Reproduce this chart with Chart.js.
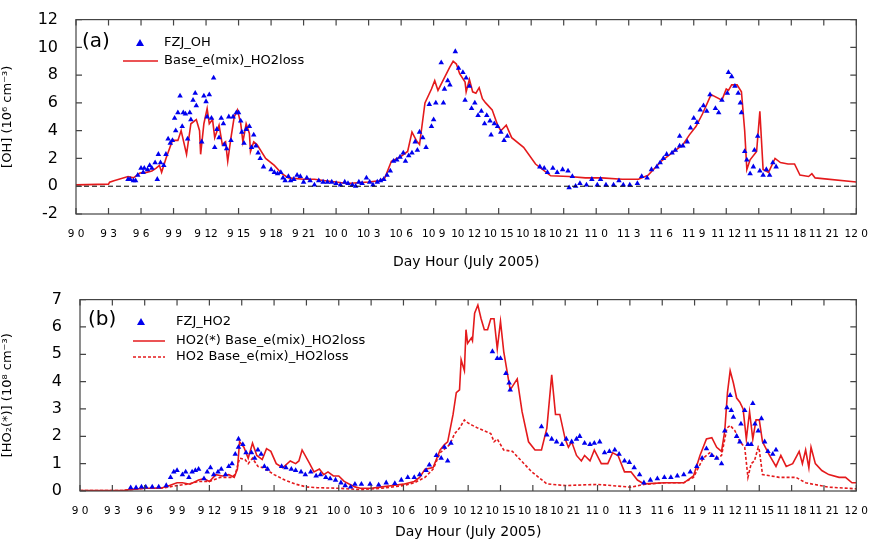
<!DOCTYPE html>
<html><head><meta charset="utf-8">
<script src="https://cdn.jsdelivr.net/npm/chart.js@4"></script>
<style>
body{margin:0;background:#fff;width:874px;height:545px;overflow:hidden;position:relative}
canvas{position:absolute;left:0}
#ca{top:0} #cb{top:280px}
</style></head><body>
<canvas id="ca" width="874" height="275"></canvas>
<canvas id="cb" width="874" height="265"></canvas>
<script>
// x tick labels, one per 3 hours from 9 July 0h
let tickLabels = ["9 0","9 3","9 6","9 9","9 12","9 15","9 18","9 21","10 0","10 3","10 6","10 9","10 12","10 15","10 18","10 21","11 0","11 3","11 6","11 9","11 12","11 15","11 18","11 21","12 0"];

// panel (a) OH model, hours since 9 July 0h
let ohModelX = [0,3,3.1,3.5,4.8,5.3,5.9,6.5,7,7.4,7.7,7.9,8.3,8.9,9.4,9.7,10.2,10.6,11.1,11.4,11.5,11.8,12.1,12.3,12.6,12.8,13.2,13.5,13.8,14,14.3,14.6,14.9,15.2,15.4,15.7,16,16.1,16.4,16.7,17.5,18.3,19,19.6,21,22,23,24,25,26,27,28,28.5,29.1,29.9,30.6,31,31.4,31.7,32.2,32.8,33.1,33.4,34.5,34.8,35.1,35.4,35.9,36,36.3,36.6,36.9,37.2,37.5,37.8,38.4,38.9,39.2,39.7,40.2,41.3,42.4,43.8,45.5,47,48.5,50.4,51.9,52.8,54,55,56,56.6,57.2,57.8,58.6,59.6,60,60.2,60.5,61,61.4,61.7,61.9,62.2,62.8,63.1,63.4,63.9,64.5,65,65.7,66.3,66.8,67.6,67.9,68.2,72];
let ohModelY = [0.1,0.15,0.29,0.4,0.7,0.6,0.95,1.0,1.1,1.3,1.5,1.0,2.0,3.3,3.3,4.0,2.3,4.5,4.8,4.0,2.3,4.5,5.6,4.5,4.8,3.5,4.4,3.0,3.2,1.8,3.5,5.0,5.5,4.5,3.2,4.5,3.8,2.5,3.2,3.0,2.0,1.5,0.9,0.6,0.5,0.5,0.4,0.3,0.2,0.25,0.3,0.4,0.6,1.8,2.1,2.5,3.9,3.3,3.0,6.0,7.0,7.6,6.9,8.6,9.0,8.8,8.1,7.5,6.8,7.7,6.8,6.7,7.1,6.3,6.0,5.5,4.4,4.0,4.4,3.5,2.8,1.6,0.75,0.7,0.6,0.6,0.5,0.5,0.8,1.8,2.4,3.0,3.7,4.3,5.2,6.6,6.2,7.0,6.9,7.3,7.3,6.8,4.0,1.2,1.9,2.5,5.4,1.2,1.0,2.0,1.7,1.6,1.6,0.8,0.7,0.9,0.6,0.3];

// panel (a) FZJ OH measurements
let ohMeasX = [4.8,5.0,5.3,5.5,5.7,6.0,6.2,6.3,6.6,6.8,7.0,7.3,7.5,7.6,7.8,8.1,8.3,8.5,8.7,8.9,9.1,9.2,9.4,9.6,9.8,9.9,10.1,10.3,10.5,10.6,10.8,11.0,11.1,11.6,11.8,12.0,12.1,12.3,12.5,12.7,12.8,13.0,13.2,13.4,13.6,13.7,13.9,14.1,14.3,14.5,14.8,15.0,15.2,15.3,15.5,15.7,16.0,16.2,16.4,16.6,16.8,17.0,17.3,18.0,18.3,18.6,18.9,19.1,19.3,19.6,19.8,20.1,20.4,20.7,21.0,21.3,21.6,22.0,22.4,22.8,23.2,23.6,24.0,24.4,24.8,25.1,25.5,25.8,26.1,26.4,26.8,27.1,27.4,27.8,28.1,28.4,28.7,29.0,29.3,29.6,29.9,30.2,30.4,30.7,31.0,31.3,31.5,31.7,32.0,32.3,32.6,32.8,33.0,33.2,33.7,33.9,34.0,34.3,34.5,35.0,35.3,35.7,35.9,36.0,36.3,36.5,36.8,37.1,37.4,37.7,37.9,38.2,38.3,38.6,38.9,39.2,39.5,39.8,42.8,43.2,43.5,44.0,44.4,44.9,45.4,45.5,45.8,46.1,46.5,47.1,47.6,48.1,48.4,48.9,49.6,50.1,50.5,51.1,51.8,52.2,52.7,53.1,53.6,53.9,54.2,54.5,55.0,55.3,55.7,55.7,56.0,56.4,56.7,57.0,57.3,57.6,57.9,58.2,58.5,59.0,59.3,59.6,60.1,60.2,60.5,60.8,61.1,61.3,61.4,61.7,61.9,62.2,62.5,62.6,62.9,63.1,63.4,63.7,64.0,64.3,64.6];
let ohMeasY = [0.5,0.5,0.4,0.4,0.8,1.3,1.0,1.3,1.2,1.5,1.3,1.7,0.5,2.3,1.7,1.5,2.3,3.4,3.1,3.3,4.9,4.0,5.3,6.5,4.3,5.3,5.2,3.4,5.3,4.8,6.2,6.7,5.8,3.2,6.5,6.1,5.0,6.6,4.9,7.8,2.8,4.1,3.5,4.9,4.5,3.0,2.7,5.0,3.3,5.0,5.3,5.3,4.7,3.9,3.1,4.1,4.3,2.8,3.7,2.9,2.4,2.0,1.4,1.2,1.0,0.9,1.0,0.6,0.4,0.7,0.4,0.5,0.8,0.7,0.3,0.6,0.4,0.1,0.4,0.3,0.3,0.3,0.2,0.1,0.3,0.2,0.1,0.0,0.3,0.2,0.6,0.3,0.1,0.3,0.4,0.5,0.8,1.1,1.8,1.9,2.1,2.4,1.8,2.2,2.4,3.2,2.6,3.9,3.5,2.8,5.9,4.3,4.8,6.0,8.9,6.0,7.0,7.6,7.3,9.7,8.5,8.2,6.2,7.8,7.2,5.6,6.0,5.1,5.4,4.5,5.1,4.7,3.7,4.5,4.3,3.9,3.3,3.6,1.4,1.3,1.0,1.3,1.0,1.2,1.1,-0.1,0.7,0.0,0.2,0.1,0.5,0.1,0.5,0.1,0.1,0.4,0.1,0.1,0.2,0.7,0.6,1.2,1.4,1.7,2.0,2.3,2.4,2.6,2.9,3.6,2.9,3.2,4.2,4.9,4.6,5.5,5.8,5.4,6.6,5.6,5.3,6.2,6.7,8.2,7.9,7.2,6.7,6.0,5.3,2.5,1.9,0.9,1.4,2.6,3.6,1.1,0.8,1.2,0.8,1.7,1.4];

// panel (b) HO2(*) model
let ho2sX = [0,4,4.6,6,7.5,8.3,9,9.5,10.2,11,11.5,12,12.6,13.2,13.8,14.3,14.6,14.8,15.2,15.6,16,16.4,16.9,17.3,17.7,18.2,18.8,19.5,20,20.3,20.6,21.3,21.7,22.2,22.6,23,23.5,24,24.5,25,25.5,26,27,28,29,30,31,31.5,32,32.75,33.4,33.8,34.1,34.6,34.9,35.2,35.35,35.65,35.8,35.95,36.3,36.4,36.6,36.9,37.2,37.5,37.8,38.1,38.4,38.7,39.0,39.3,39.9,40.55,41.0,41.6,42.2,42.8,43.3,43.75,44.1,44.5,45.0,45.3,45.6,46.05,46.5,46.8,47.3,47.7,48.35,48.95,49.4,49.9,50.5,51.1,51.7,52.3,54.2,56.0,56.9,57.5,58.1,58.6,59.05,59.5,59.8,60.05,60.3,60.6,60.9,61.2,61.5,61.8,62.1,62.4,62.7,63.0,63.3,63.95,64.55,65.0,65.5,66.1,66.7,67.0,67.3,67.6,67.8,68.2,68.8,69.45,70.4,71.0,71.6,72];
let ho2sY = [0.02,0.02,0.05,0.1,0.1,0.2,0.3,0.3,0.25,0.4,0.45,0.35,0.6,0.55,0.6,0.5,0.8,1.8,1.6,1.2,1.75,1.3,1.15,1.55,1.45,1.0,0.85,1.1,1.0,1.1,1.5,1.0,0.7,0.8,0.6,0.7,0.55,0.55,0.35,0.25,0.15,0.1,0.1,0.15,0.2,0.25,0.35,0.5,0.8,0.86,1.5,1.7,1.8,2.8,3.6,3.7,4.8,4.4,5.9,5.4,5.6,5.5,6.5,6.8,6.3,5.9,5.9,6.3,6.3,5.2,6.2,5.1,3.7,4.1,2.9,1.8,1.5,1.5,2.3,4.25,2.8,2.8,1.9,1.6,1.8,1.3,1.1,1.3,1.1,1.5,1.0,1.0,1.4,1.3,0.7,0.7,0.4,0.26,0.3,0.3,0.55,1.3,1.9,1.95,1.6,1.45,2.2,3.6,4.4,3.95,3.4,3.25,3.0,1.9,2.9,1.9,2.6,2.6,1.8,1.3,0.9,1.3,0.9,1.0,1.45,1.0,1.5,0.85,1.6,1.0,0.75,0.6,0.5,0.5,0.3,0.3];

// panel (b) HO2 model (dashed)
let ho2X = [0,4,4.6,6,7.5,8.3,9,10,11,12,13,14,14.4,14.8,15.3,15.6,16,16.5,17,18,19,20,21,22,24,26,28,30,31,32,32.75,33.4,34.3,34.75,35.2,35.65,35.95,36.4,36.9,37.5,38.1,38.4,38.7,39.3,40.1,40.7,41.9,43.3,45.0,48.0,51.1,52.3,54.2,56.0,56.9,57.8,58.4,59.05,59.5,60.0,60.3,60.75,61.2,61.65,61.95,62.25,62.55,62.9,63.0,63.3,64.85,66.4,67.3,69.45,72];
let ho2Y = [0.02,0.02,0.05,0.1,0.1,0.15,0.2,0.25,0.35,0.35,0.5,0.5,0.6,1.2,1.15,1.0,1.2,0.9,0.85,0.6,0.4,0.25,0.15,0.12,0.1,0.05,0.1,0.2,0.3,0.5,0.8,1.4,1.7,2.1,2.3,2.6,2.5,2.4,2.3,2.2,2.1,1.8,1.9,1.5,1.45,1.2,0.7,0.26,0.2,0.24,0.14,0.24,0.3,0.3,0.5,1.2,1.4,1.2,1.3,2.3,2.4,2.2,1.8,1.6,0.5,1.0,1.1,1.6,1.5,0.6,0.5,0.5,0.3,0.14,0.08];

// panel (b) FZJ HO2 measurements
let ho2MeasX = [4.7,5.2,5.7,6.1,6.7,7.3,8.0,8.4,8.7,9.0,9.5,9.8,10.1,10.4,10.7,11.0,11.5,11.8,12.1,12.4,12.8,13.1,13.5,13.8,14.1,14.4,14.7,14.7,15.1,15.4,15.9,16.2,16.5,16.8,17.1,17.4,18.7,19.1,19.6,20.0,20.5,20.9,21.4,21.9,22.3,22.8,23.2,23.7,24.2,24.6,25.1,25.5,26.1,26.9,27.7,28.4,29.2,29.8,30.4,31.0,31.5,32.1,32.4,33.05,33.5,33.8,34.1,34.4,38.25,38.7,39.0,39.5,39.8,39.9,42.8,43.3,43.75,44.2,44.7,45.1,45.6,46.05,46.35,46.8,47.3,47.7,48.2,48.65,49.1,49.6,50.0,50.5,50.95,51.4,51.9,52.3,52.9,53.55,54.2,54.8,55.4,56.0,56.6,57.2,57.7,58.1,58.6,59.05,59.5,59.8,60.0,60.3,60.4,60.6,60.9,61.2,61.3,61.65,61.95,62.25,62.4,62.6,62.9,63.2,63.5,63.8,64.25,64.55];
let ho2MeasY = [0.12,0.12,0.15,0.15,0.15,0.15,0.2,0.5,0.7,0.75,0.6,0.7,0.5,0.7,0.75,0.8,0.45,0.7,0.85,0.6,0.7,0.8,0.6,0.9,1.0,1.35,1.6,1.9,1.7,1.4,1.4,1.2,1.5,1.35,0.9,0.8,0.9,0.85,0.8,0.75,0.7,0.6,0.7,0.55,0.6,0.5,0.45,0.4,0.3,0.2,0.15,0.25,0.25,0.25,0.22,0.3,0.28,0.4,0.5,0.5,0.6,0.75,0.95,1.3,1.2,1.6,1.1,1.75,5.1,4.85,4.85,4.3,3.95,3.7,2.35,2.05,1.9,1.8,1.7,1.9,1.8,1.9,2.0,1.75,1.7,1.75,1.8,1.4,1.45,1.5,1.35,1.1,1.05,0.85,0.6,0.3,0.4,0.45,0.5,0.5,0.55,0.6,0.7,0.9,1.2,1.55,1.3,1.2,1.0,2.2,3.05,3.5,2.95,2.7,2.0,1.8,2.45,2.95,1.7,1.7,3.2,2.45,2.2,2.65,1.8,1.45,1.35,1.5];

function pts(xs, ys) { return xs.map((x, i) => ({ x: x, y: ys[i] })); }

const RED = "#e41a1c";
const BLUE = "#0000ee";
const FONT = "'DejaVu Sans', Verdana, sans-serif";

// frame + inward ticks + legend drawn on top
function framePlugin(legend) {
  return {
    id: "frame",
    afterDraw(chart) {
      let c = chart.ctx, a = chart.chartArea, sx = chart.scales.x, sy = chart.scales.y;
      c.save();
      c.strokeStyle = "#444"; c.lineWidth = 1.2;
      c.strokeRect(a.left, a.top, a.right - a.left, a.bottom - a.top);
      c.beginPath();
      sx.ticks.forEach(t => {
        let p = sx.getPixelForValue(t.value);
        c.moveTo(p, a.top); c.lineTo(p, a.top + 6);
        c.moveTo(p, a.bottom); c.lineTo(p, a.bottom - 6);
      });
      sy.ticks.forEach(t => {
        let p = sy.getPixelForValue(t.value);
        c.moveTo(a.left, p); c.lineTo(a.left + 6, p);
        c.moveTo(a.right, p); c.lineTo(a.right - 6, p);
      });
      c.stroke();
      // legend
      c.fillStyle = "#000"; c.textBaseline = "middle";
      c.font = "20px " + FONT;
      c.fillText(legend.tag, legend.tagX, legend.tagY);
      c.font = "13px " + FONT;
      legend.items.forEach(it => {
        if (it.kind === "tri") {
          c.fillStyle = BLUE;
          c.beginPath();
          c.moveTo(legend.symX, it.y - 4); c.lineTo(legend.symX + 4, it.y + 3); c.lineTo(legend.symX - 4, it.y + 3);
          c.closePath(); c.fill();
        } else {
          c.strokeStyle = RED; c.lineWidth = 1.5;
          c.setLineDash(it.kind === "dash" ? [3, 2] : []);
          c.beginPath(); c.moveTo(legend.lineX0, it.y); c.lineTo(legend.lineX1, it.y); c.stroke();
          c.setLineDash([]);
        }
        c.fillStyle = "#000";
        c.fillText(it.text, legend.textX, it.y);
      });
      c.restore();
    }
  };
}

function makeChart(id, datasets, ymin, ymax, ytitle, box, legend) {
  return new Chart(document.getElementById(id), {
    type: "scatter",
    data: { datasets: datasets },
    options: {
      responsive: false, animation: false,
      layout: { padding: { top: box.top, right: box.right, left: 0, bottom: 0 } },
      plugins: { legend: { display: false }, tooltip: { enabled: false } },
      scales: {
        x: {
          type: "linear", min: 0, max: 72,
          afterBuildTicks: s => { s.ticks = tickLabels.map((l, i) => ({ value: i * 3 })); },
          afterFit: s => { s.height = box.xh; },
          ticks: { callback: (v) => tickLabels[v / 3], autoSkip: false, maxRotation: 0,
                   color: "#000", font: { size: 10.5, family: FONT }, padding: 6 },
          grid: { display: false }, border: { display: false },
          title: { display: true, text: "Day Hour (July 2005)", color: "#000",
                   font: { size: 14, family: FONT }, padding: { top: 14 } }
        },
        y: {
          min: ymin, max: ymax,
          afterFit: s => { s.width = box.left; },
          ticks: { stepSize: ymax > 10 ? 2 : 1, color: "#000", font: { size: 16, family: FONT }, padding: 10 },
          grid: { display: false }, border: { display: false },
          title: { display: true, text: ytitle, color: "#000", font: { size: 13, family: FONT }, padding: 0 }
        }
      }
    },
    plugins: [framePlugin(legend)]
  });
}

let tri = { pointStyle: "triangle", pointRadius: 3.2, backgroundColor: BLUE, borderColor: BLUE, borderWidth: 0, showLine: false };
let line = { showLine: true, pointRadius: 0, borderColor: RED, borderWidth: 1.6, fill: false };

makeChart("ca", [
  Object.assign({ data: pts([0, 72], [0, 0]), borderColor: "#000", borderDash: [5, 3], borderWidth: 1 }, { showLine: true, pointRadius: 0 }),
  Object.assign({ data: pts(ohMeasX, ohMeasY) }, tri),
  Object.assign({ data: pts(ohModelX, ohModelY) }, line)
], -2, 12, "[OH] (10⁶ cm⁻³)", { top: 19, right: 12, left: 76, xh: 61 },
{ tag: "(a)", tagX: 82, tagY: 42, symX: 140, lineX0: 123, lineX1: 158, textX: 164,
  items: [{ kind: "tri", y: 43, text: "FZJ_OH" }, { kind: "line", y: 61, text: "Base_e(mix)_HO2loss" }] });

makeChart("cb", [
  Object.assign({ data: pts(ho2MeasX, ho2MeasY) }, tri),
  Object.assign({ data: pts(ho2X, ho2Y), borderDash: [3, 2] }, line),
  Object.assign({ data: pts(ho2sX, ho2sY) }, line)
], 0, 7, "[HO₂(*)] (10⁸ cm⁻³)", { top: 15, right: 9, left: 80, xh: 54 },
{ tag: "(b)", tagX: 88, tagY: 40, symX: 141, lineX0: 133, lineX1: 165, textX: 176,
  items: [{ kind: "tri", y: 42, text: "FZJ_HO2" }, { kind: "line", y: 61, text: "HO2(*) Base_e(mix)_HO2loss" },
          { kind: "dash", y: 77, text: "HO2 Base_e(mix)_HO2loss" }] });
</script>
</body></html>
